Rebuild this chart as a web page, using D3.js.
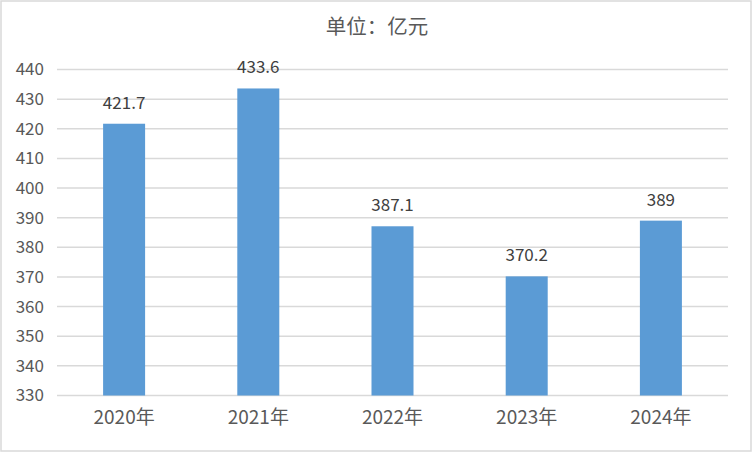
<!DOCTYPE html>
<html><head><meta charset="utf-8">
<script src="https://cdn.jsdelivr.net/npm/d3@7"></script>
<style>body{margin:0;background:#fff}svg{display:block}</style>
</head><body>
<svg id="c" width="752" height="452"></svg>
<script>
const categories = ["2020年","2021年","2022年","2023年","2024年"];
const values = [421.7, 433.6, 387.1, 370.2, 389];
const valueLabels = ["421.7","433.6","387.1","370.2","389"];
const yTicks = [330,340,350,360,370,380,390,400,410,420,430,440];
const title = "单位：亿元";

const svg = d3.select("#c");
const W = 752, H = 452;
const font = "'Noto Sans CJK SC','Microsoft YaHei',sans-serif";
svg.append("rect").attr("x",1).attr("y",1).attr("width",W-2).attr("height",H-2)
  .attr("fill","#fff").attr("stroke","#d9d9d9").attr("stroke-width",1.5);

const m = {left:57, right:728, top:69.5, bottom:395.5};
const x = d3.scaleBand().domain(categories).range([m.left,m.right]).paddingInner(0.687).paddingOuter(0.3435);
const y = d3.scaleLinear().domain([330,440]).range([m.bottom,m.top]);

// gridlines
svg.append("g").selectAll("line").data(yTicks).join("line")
  .attr("x1",m.left).attr("x2",m.right)
  .attr("y1",d=>y(d)).attr("y2",d=>y(d))
  .attr("stroke","#d9d9d9").attr("stroke-width",1.5);

// y axis
const ya = svg.append("g").attr("transform",`translate(${m.left},0)`)
  .call(d3.axisLeft(y).tickValues(yTicks).tickSize(0).tickPadding(13));
ya.select(".domain").remove();
ya.selectAll("text").attr("font-family",font).attr("font-size",17).attr("fill","#595959");

// x axis
const xa = svg.append("g").attr("transform",`translate(0,${m.bottom})`)
  .call(d3.axisBottom(x).tickSize(0).tickPadding(15));
xa.select(".domain").remove();
xa.selectAll("text").attr("font-family",font).attr("font-size",19).attr("fill","#595959");

// bars
svg.append("g").selectAll("rect").data(values).join("rect")
  .attr("x",(d,i)=>x(categories[i])).attr("width",x.bandwidth())
  .attr("y",d=>y(d)).attr("height",d=>y(330)-y(d))
  .attr("fill","#5b9bd5");

// value labels
svg.append("g").selectAll("text").data(values).join("text")
  .attr("x",(d,i)=>x(categories[i])+x.bandwidth()/2)
  .attr("y",d=>y(d)-15)
  .attr("text-anchor","middle").attr("font-family",font).attr("font-size",17)
  .attr("fill","#404040").text((d,i)=>valueLabels[i]);

// title
svg.append("text").attr("x",377).attr("y",34).attr("text-anchor","middle")
  .attr("font-family",font).attr("font-size",20.5).attr("fill","#595959").text(title);
</script>
</body></html>
